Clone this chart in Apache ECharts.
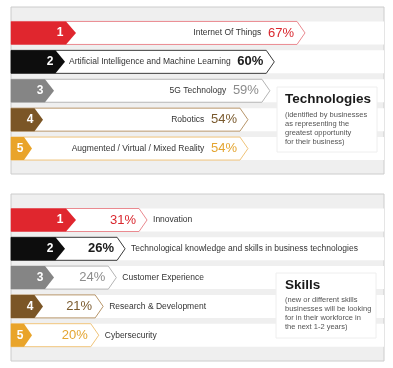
<!DOCTYPE html>
<html>
<head>
<meta charset="utf-8">
<script src="https://cdn.jsdelivr.net/npm/echarts@6/dist/echarts.min.js"></script>
<style>
html,body{margin:0;padding:0;background:#fff;}
#chart{width:393px;height:368px;}
</style>
</head>
<body>
<div id="chart"></div>
<script>
// ---- data ----
var techCategories = ['Internet Of Things', 'Artificial Intelligence and Machine Learning', '5G Technology', 'Robotics', 'Augmented / Virtual / Mixed Reality'];
var techValues = [67, 60, 59, 54, 54];
var skillCategories = ['Innovation', 'Technological knowledge and skills in business technologies', 'Customer Experience', 'Research & Development', 'Cybersecurity'];
var skillValues = [31, 26, 24, 21, 20];
var ranks = [1, 2, 3, 4, 5];

// ---- styles ----
var badgeColors = ['#e0262e', '#0d0d0d', '#858585', '#7b5626', '#e9a42a'];
var valueColors = ['#d9272e', '#1a1a1a', '#8c8c8c', '#7a5a2e', '#e4a531'];
var outlineColors = ['#ea8a90', '#3a3a3a', '#b5b5b5', '#b8966a', '#f0c47a'];
var FONT = '"Liberation Sans", Arial, sans-serif';

function makeRender(categories, mode) {
  return function (params, api) {
    var idx = api.value(1);
    var v = api.value(0);
    var start = api.coord([0, idx]);
    var end = api.coord([v, idx]);
    var cs = params.coordSys;
    var h = 23;
    var cy = start[1];
    var y0 = cy - h / 2, y1 = cy + h / 2;
    var x0 = cs.x;
    var tip = end[0];
    var d = 8;
    var tipB = x0 + 65 - 11 * idx;
    var dB = 10 - idx * 0.5;
    var children = [
      { type: 'rect', shape: { x: x0, y: y0, width: cs.width, height: h }, style: { fill: '#ffffff' } },
      { type: 'polygon', shape: { points: [[x0, y0], [tip - d, y0], [tip, cy], [tip - d, y1], [x0, y1]] },
        style: { fill: '#ffffff', stroke: outlineColors[idx], lineWidth: 1 } },
      { type: 'polygon', shape: { points: [[x0, y0], [tipB - dB, y0], [tipB, cy], [tipB - dB, y1], [x0, y1]] },
        style: { fill: badgeColors[idx] } },
      { type: 'text', style: { text: String(ranks[idx]), x: x0 + 49 - 10 * idx, y: cy, align: 'center', verticalAlign: 'middle',
        fill: '#ffffff', font: 'bold 12px ' + FONT } }
    ];
    if (mode === 'tech') {
      children.push({ type: 'text', style: {
        text: '{l|' + categories[idx] + '}  {v|' + v + '%}',
        x: tip - 11, y: cy, align: 'right', verticalAlign: 'middle',
        rich: {
          l: { fontSize: 8.5, fontFamily: FONT, fill: '#333333' },
          v: { fontSize: 13, fontFamily: FONT, fill: valueColors[idx], fontWeight: idx === 1 ? 'bold' : 'normal' }
        }
      } });
    } else {
      children.push({ type: 'text', style: { text: v + '%', x: tip - 11, y: cy, align: 'right', verticalAlign: 'middle',
        fill: valueColors[idx], font: (idx === 1 ? 'bold ' : '') + '13px ' + FONT } });
      children.push({ type: 'text', style: { text: categories[idx], x: tip + 6, y: cy, align: 'left', verticalAlign: 'middle',
        fill: '#333333', font: '8.5px ' + FONT } });
    }
    return { type: 'group', children: children };
  };
}

var chart = echarts.init(document.getElementById('chart'), null, { renderer: 'canvas' });
chart.setOption({
  animation: false,
  backgroundColor: '#ffffff',
  grid: [
    { left: 11, width: 373, top: 18.5, height: 144.5 },
    { left: 11, width: 373, top: 205.6, height: 144 }
  ],
  xAxis: [
    { type: 'value', gridIndex: 0, min: 0, max: 85, show: false },
    { type: 'value', gridIndex: 1, min: 0, max: 85, show: false }
  ],
  yAxis: [
    { type: 'category', gridIndex: 0, data: techCategories, inverse: true, show: false },
    { type: 'category', gridIndex: 1, data: skillCategories, inverse: true, show: false }
  ],
  graphic: [
    { type: 'rect', z: -10, shape: { x: 11, y: 7, width: 373, height: 167 }, style: { fill: '#efefef', stroke: '#cccccc', lineWidth: 1 } },
    { type: 'rect', z: -10, shape: { x: 11, y: 194, width: 373, height: 167 }, style: { fill: '#efefef', stroke: '#cccccc', lineWidth: 1 } },
    { type: 'rect', z: 100, shape: { x: 277, y: 87, width: 100, height: 65 }, style: { fill: '#ffffff', stroke: '#eeeeee', lineWidth: 1 } },
    { type: 'text', z: 101, style: { text: 'Technologies', x: 285, y: 99, verticalAlign: 'middle', fill: '#1a1a1a', font: 'bold 13.5px ' + FONT } },
    { type: 'text', z: 101, style: { text: '(identified by businesses\nas representing the\ngreatest opportunity\nfor their business)', x: 285, y: 110,
      verticalAlign: 'top', fill: '#555555', font: '7.5px ' + FONT, lineHeight: 9 } },
    { type: 'rect', z: 100, shape: { x: 276, y: 273, width: 100, height: 65 }, style: { fill: '#ffffff', stroke: '#eeeeee', lineWidth: 1 } },
    { type: 'text', z: 101, style: { text: 'Skills', x: 285, y: 285, verticalAlign: 'middle', fill: '#1a1a1a', font: 'bold 13.5px ' + FONT } },
    { type: 'text', z: 101, style: { text: '(new or different skills\nbusinesses will be looking\nfor in their workforce in\nthe next 1-2 years)', x: 285, y: 295,
      verticalAlign: 'top', fill: '#555555', font: '7.5px ' + FONT, lineHeight: 9 } }
  ],
  series: [
    { type: 'custom', z: 2, xAxisIndex: 0, yAxisIndex: 0, renderItem: makeRender(techCategories, 'tech'),
      encode: { x: 0, y: 1 }, data: techValues.map(function (v, i) { return [v, i]; }) },
    { type: 'custom', z: 2, xAxisIndex: 1, yAxisIndex: 1, renderItem: makeRender(skillCategories, 'skill'),
      encode: { x: 0, y: 1 }, data: skillValues.map(function (v, i) { return [v, i]; }) }
  ]
});
</script>
</body>
</html>
